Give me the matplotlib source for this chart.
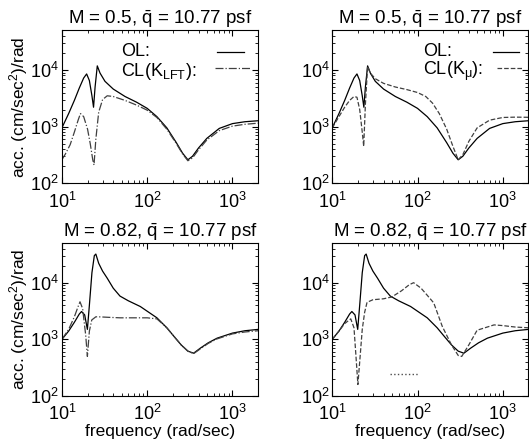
import matplotlib
matplotlib.use("Agg")
import matplotlib.pyplot as plt

plt.rcParams['font.family'] = ['Liberation Sans', 'DejaVu Sans']
plt.rcParams['mathtext.fontset'] = 'custom'
plt.rcParams['mathtext.rm'] = 'Liberation Sans'
plt.rcParams['mathtext.it'] = 'Liberation Sans:italic'
plt.rcParams['mathtext.default'] = 'regular'
plt.rcParams['font.size'] = 13

# M = 0.5 open loop
f_ol1 = [10, 12, 14, 16, 18, 19.5, 21, 22.5, 23.5, 24.5, 26, 28, 32, 40, 55, 75, 100,
         130, 170, 220, 260, 300, 340, 400, 500, 700, 1000, 1400, 2000]
a_ol1 = [950, 1700, 2900, 4800, 7200, 8500, 6500, 3500, 2200, 5000, 11800, 8800, 6300, 4600,
         3400, 2700, 2100, 1500, 950, 520, 340, 260, 300, 420, 620, 930, 1130, 1220, 1270]

# M = 0.5 closed loop, K_LFT
f_lft1 = [10, 11, 12.5, 14, 15.5, 16.5, 18, 20, 21.5, 23, 23.8, 25, 27, 30, 34, 40, 55, 75,
          100, 130, 170, 220, 260, 300, 340, 400, 500, 700, 1000, 1400, 2000]
a_lft1 = [260, 330, 480, 800, 1300, 1700, 1500, 900, 500, 260, 210, 600, 1800, 3000, 3500,
          3400, 2900, 2400, 1950, 1450, 900, 500, 330, 250, 280, 390, 580, 850, 1020, 1100, 1150]

# M = 0.5 closed loop, K_mu
f_mu1 = [10, 12, 14, 16, 18, 19.5, 21, 22.5, 23.4, 24.5, 26, 28, 32, 40, 55, 75, 100, 125,
         150, 180, 220, 260, 300, 340, 400, 500, 700, 1000, 1400, 2000]
a_mu1 = [950, 1500, 2200, 2900, 3400, 3300, 2000, 800, 450, 2500, 11500, 8800, 7000, 5800,
         5000, 4500, 4000, 3400, 2600, 1700, 900, 450, 260, 320, 550, 950, 1300, 1450, 1470, 1460]

# M = 0.82 open loop
f_ol2 = [10, 12, 14, 16, 17, 18.5, 19.9, 21, 22.5, 24, 25, 27, 30, 34, 40, 48, 60, 83, 130,
         170, 204, 250, 300, 350, 420, 520, 660, 1000, 1400, 2000]
a_ol2 = [1000, 1400, 2000, 2800, 3100, 2700, 1500, 4000, 15000, 30000, 32000, 22000, 16000,
         12000, 8000, 5800, 4800, 3800, 2400, 1600, 1150, 800, 620, 570, 700, 870, 1050, 1290,
         1420, 1500]

# M = 0.82 closed loop, K_LFT
f_lft2 = [10, 12, 14, 15.5, 16.3, 17.5, 19, 19.9, 21, 22.4, 25, 27, 35, 48, 70, 100, 130, 170,
          204, 250, 300, 350, 420, 520, 660, 1000, 1400, 2000]
a_lft2 = [1000, 1500, 2500, 3800, 4600, 3500, 1200, 500, 1400, 2200, 2500, 2500, 2450, 2400,
          2400, 2400, 2300, 1600, 1150, 800, 620, 560, 680, 850, 1020, 1250, 1350, 1420]

# M = 0.82 closed loop, K_mu
f_mu2 = [10, 12, 14, 16.5, 18, 19, 20, 21, 22.5, 24, 25.6, 30, 40, 50, 65, 80, 90, 110, 130,
         155, 195, 250, 300, 330, 400, 500, 790, 1000, 1400, 2000]
a_mu2 = [1000, 1400, 1900, 2300, 1600, 500, 160, 400, 1500, 3000, 4500, 5000, 5200, 5600, 7200,
         9200, 10000, 8000, 6000, 4400, 1700, 800, 520, 500, 800, 1450, 1800, 1750, 1650, 1600]

# stray dotted segment in the last panel
f_dot = [48, 103]
a_dot = [245, 245]

titles = [r'M = 0.5, $\bar{q}$ = 10.77 psf', r'M = 0.5, $\bar{q}$ = 10.77 psf',
          r'M = 0.82, $\bar{q}$ = 10.77 psf', r'M = 0.82, $\bar{q}$ = 10.77 psf']

fig = plt.figure(figsize=(5.29, 4.46), dpi=100)
w, h = 0.371, 0.343
boxes = [(0.117, 0.589), (0.628, 0.589), (0.117, 0.112), (0.628, 0.112)]
axes = [fig.add_axes([x, y, w, h]) for x, y in boxes]

lw = 0.9
ax = axes[0]
ax.plot(f_ol1, a_ol1, 'k-', lw=lw)
ax.plot(f_lft1, a_lft1, color='0.25', ls='-.', lw=lw)
ax = axes[1]
ax.plot(f_ol1, a_ol1, 'k-', lw=lw)
ax.plot(f_mu1, a_mu1, color='0.25', ls='--', lw=lw)
ax = axes[2]
ax.plot(f_ol2, a_ol2, 'k-', lw=lw)
ax.plot(f_lft2, a_lft2, color='0.25', ls='-.', lw=lw)
ax = axes[3]
ax.plot(f_ol2, a_ol2, 'k-', lw=lw)
ax.plot(f_mu2, a_mu2, color='0.25', ls='--', lw=lw)
ax.plot(f_dot, a_dot, color='0.3', ls=':', lw=1.0)

for ax, t in zip(axes, titles):
    ax.set_xscale('log')
    ax.set_yscale('log')
    ax.set_xlim(10, 2000)
    ax.set_ylim(100, 5e4)
    ax.set_title(t, fontsize=13.5, pad=1)
    ax.tick_params(which='both', direction='in', top=True, right=True, labelsize=13)
    ax.tick_params(which='major', length=4)
    ax.tick_params(axis='x', which='major', pad=6)
    ax.tick_params(axis='y', which='major', pad=2)
    ax.tick_params(which='minor', length=2)
    for s in ax.spines.values():
        s.set_linewidth(0.8)

for ax in (axes[0], axes[2]):
    ax.set_ylabel(r'acc. (cm/sec$^2$)/rad', fontsize=12.5, labelpad=0)
for ax in (axes[2], axes[3]):
    ax.set_xlabel('frequency (rad/sec)', fontsize=12.5, labelpad=0)

# legend text, drawn as in the original (label left, line sample right)
ax = axes[0]
ax.text(0.30, 0.86, 'OL:', transform=ax.transAxes, va='center', fontsize=13)
ax.text(0.30, 0.73, r'CL(K$_{LFT}$):', transform=ax.transAxes, va='center', fontsize=13)
ax.plot([0.79, 0.93], [0.86, 0.86], 'k-', lw=lw, transform=ax.transAxes)
ax.plot([0.78, 0.96], [0.755, 0.755], color='0.25', ls='-.', lw=lw, transform=ax.transAxes)

ax = axes[1]
ax.text(0.465, 0.86, 'OL:', transform=ax.transAxes, va='center', fontsize=13)
ax.text(0.465, 0.73, r'CL(K$_{\mu}$):', transform=ax.transAxes, va='center', fontsize=13)
ax.plot([0.82, 0.95], [0.86, 0.86], 'k-', lw=lw, transform=ax.transAxes)
ax.plot([0.84, 0.97], [0.755, 0.755], color='0.25', ls='--', lw=lw, transform=ax.transAxes)

fig.savefig('out.png', dpi=100)
